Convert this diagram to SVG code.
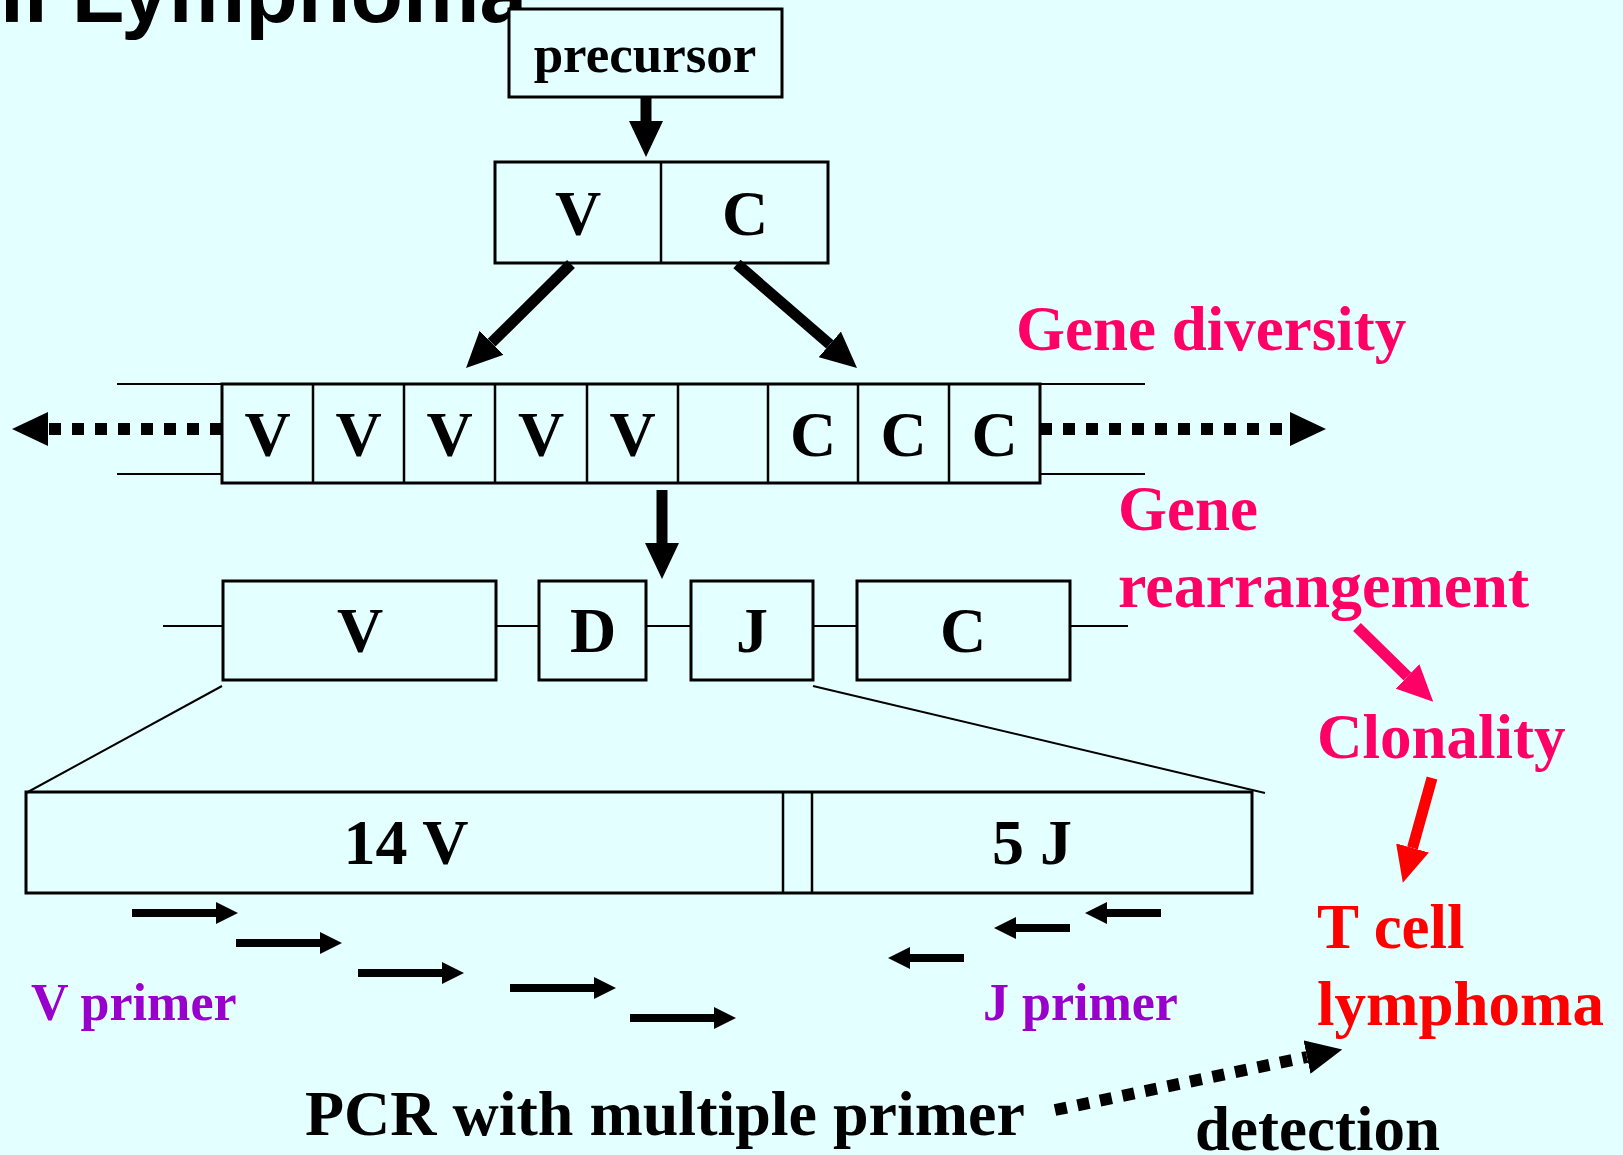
<svg xmlns="http://www.w3.org/2000/svg" width="1623" height="1155" viewBox="0 0 1623 1155">
  <style>
    .box { fill: #E4FFFF; stroke: #000; stroke-width: 3; }
    .div { stroke: #000; stroke-width: 2.5; fill: none; }
    .thin { stroke: #000; stroke-width: 2; fill: none; }
    .lbl { font-family: "Liberation Serif", "Times New Roman", serif; font-weight: bold; fill: #000; }
    .big { font-size: 64px; text-anchor: middle; }
    .pink { fill: #FF0066; }
    .red { fill: #FF0000; }
    .purple { fill: #9900CC; }
    .shaft { stroke: #000; stroke-width: 11; fill: none; }
    .dots { stroke: #000; stroke-width: 12; fill: none; stroke-dasharray: 12 11; }
  </style>
  <defs>
    <marker id="hBlack" markerUnits="userSpaceOnUse" markerWidth="36" markerHeight="34" viewBox="0 0 36 34" refX="0" refY="17" orient="auto">
      <path d="M0,0 L36,17 L0,34 Z" fill="#000"/>
    </marker>
    <marker id="hPink" markerUnits="userSpaceOnUse" markerWidth="36" markerHeight="34" viewBox="0 0 36 34" refX="0" refY="17" orient="auto">
      <path d="M0,0 L36,17 L0,34 Z" fill="#FF0066"/>
    </marker>
    <marker id="hRed" markerUnits="userSpaceOnUse" markerWidth="36" markerHeight="34" viewBox="0 0 36 34" refX="0" refY="17" orient="auto">
      <path d="M0,0 L36,17 L0,34 Z" fill="#FF0000"/>
    </marker>
    <!-- primer arrows, tip at origin -->
    <path id="primerR" d="M-106,-4 H-22 V-11 L0,0 L-22,11 V4 H-106 Z" fill="#000"/>
    <path id="primerL" d="M76,-4 H22 V-11 L0,0 L22,11 V4 H76 Z" fill="#000"/>
  </defs>

  <rect width="1623" height="1155" fill="#E4FFFF"/>

  <!-- heading -->
  <text x="0" y="22" font-family="Liberation Sans, Arial, sans-serif" font-weight="bold" font-size="86">ll Lymphoma</text>

  <!-- precursor -->
  <g id="precursor">
    <rect class="box" x="509" y="9" width="273" height="88"/>
    <text class="lbl" x="645" y="72" font-size="53" text-anchor="middle">precursor</text>
  </g>

  <!-- V / C unit -->
  <g id="vc-unit">
    <rect class="box" x="495" y="162" width="333" height="101"/>
    <line class="div" x1="661" y1="162" x2="661" y2="263"/>
    <text class="lbl big" x="578" y="235">V</text>
    <text class="lbl big" x="745" y="235">C</text>
  </g>

  <!-- germline locus -->
  <g id="germline">
    <line class="thin" x1="117" y1="384" x2="222" y2="384"/>
    <line class="thin" x1="117" y1="474" x2="222" y2="474"/>
    <line class="thin" x1="1040" y1="384" x2="1145" y2="384"/>
    <line class="thin" x1="1040" y1="474" x2="1145" y2="474"/>
    <rect class="box" x="222" y="384" width="818" height="99"/>
    <path class="div" d="M313,384V483 M404,384V483 M495,384V483 M587,384V483 M678,384V483 M768,384V483 M858,384V483 M949,384V483"/>
    <text class="lbl big" x="267.5" y="456">V</text>
    <text class="lbl big" x="358.5" y="456">V</text>
    <text class="lbl big" x="449.5" y="456">V</text>
    <text class="lbl big" x="541" y="456">V</text>
    <text class="lbl big" x="632.5" y="456">V</text>
    <text class="lbl big" x="813" y="456">C</text>
    <text class="lbl big" x="903.5" y="456">C</text>
    <text class="lbl big" x="994.5" y="456">C</text>
  </g>

  <!-- rearranged V-D-J-C -->
  <g id="rearranged">
    <line class="thin" x1="163" y1="626" x2="1128" y2="626"/>
    <rect class="box" x="223" y="581" width="273" height="99"/>
    <rect class="box" x="539" y="581" width="107" height="99"/>
    <rect class="box" x="691" y="581" width="122" height="99"/>
    <rect class="box" x="857" y="581" width="213" height="99"/>
    <text class="lbl big" x="360" y="652">V</text>
    <text class="lbl big" x="593" y="652">D</text>
    <text class="lbl big" x="752" y="652">J</text>
    <text class="lbl big" x="963" y="652">C</text>
  </g>

  <!-- expanded V..J region -->
  <g id="vj-region">
    <rect class="box" x="26" y="792" width="1226" height="101"/>
    <line class="div" x1="783" y1="792" x2="783" y2="893"/>
    <line class="div" x1="812" y1="792" x2="812" y2="893"/>
    <text class="lbl big" x="406" y="864">14 V</text>
    <text class="lbl big" x="1032" y="864">5 J</text>
  </g>

  <!-- primers -->
  <g id="v-primers">
    <use href="#primerR" x="238" y="913"/>
    <use href="#primerR" x="342" y="943"/>
    <use href="#primerR" x="464" y="973"/>
    <use href="#primerR" x="616" y="988"/>
    <use href="#primerR" x="736" y="1018"/>
    <text class="lbl purple" x="31" y="1020" font-size="52">V primer</text>
  </g>
  <g id="j-primers">
    <use href="#primerL" x="1085" y="913"/>
    <use href="#primerL" x="994" y="928"/>
    <use href="#primerL" x="888" y="958"/>
    <text class="lbl purple" x="983" y="1020" font-size="52">J primer</text>
  </g>

  <!-- side labels -->
  <g id="gene-diversity"><text class="lbl pink" x="1016" y="350" font-size="63">Gene diversity</text></g>
  <g id="gene-rearrangement">
    <text class="lbl pink" x="1118" y="530" font-size="63">Gene</text>
    <text class="lbl pink" x="1118" y="607" font-size="64">rearrangement</text>
  </g>
  <g id="clonality"><text class="lbl pink" x="1317" y="758" font-size="63">Clonality</text></g>
  <g id="t-cell-lymphoma">
    <text class="lbl red" x="1317" y="948" font-size="63">T cell</text>
    <text class="lbl red" x="1317" y="1025" font-size="63">lymphoma</text>
  </g>
  <g id="pcr">
    <text class="lbl" x="305" y="1135" font-size="64">PCR with multiple primer</text>
  </g>
  <g id="detection"><text class="lbl" x="1195" y="1150" font-size="63">detection</text></g>

  <!-- connectors -->
  <g id="connectors">
    <line class="shaft" x1="646" y1="97" x2="646" y2="121" stroke-width="12" marker-end="url(#hBlack)"/>
    <line class="shaft" x1="571" y1="264" x2="491.6" y2="342.7" stroke-width="10" marker-end="url(#hBlack)"/>
    <line class="shaft" x1="737" y1="264" x2="829.8" y2="344.4" stroke-width="10" marker-end="url(#hBlack)"/>
    <line class="dots" x1="222" y1="429" x2="48" y2="429" marker-end="url(#hBlack)"/>
    <line class="dots" x1="1040" y1="429" x2="1290" y2="429" marker-end="url(#hBlack)"/>
    <line class="shaft" x1="662" y1="490" x2="662" y2="543" stroke-width="12" marker-end="url(#hBlack)"/>
    <line class="thin" x1="222" y1="686" x2="26" y2="793"/>
    <line class="thin" x1="813" y1="686" x2="1265" y2="793"/>
    <line x1="1357" y1="627" x2="1407.5" y2="676.5" stroke="#FF0066" stroke-width="11" marker-end="url(#hPink)"/>
    <line x1="1432" y1="778" x2="1412.5" y2="848" stroke="#FF0000" stroke-width="11" marker-end="url(#hRed)"/>
    <line class="dots" x1="1055" y1="1110" x2="1307" y2="1057" marker-end="url(#hBlack)"/>
  </g>
</svg>
